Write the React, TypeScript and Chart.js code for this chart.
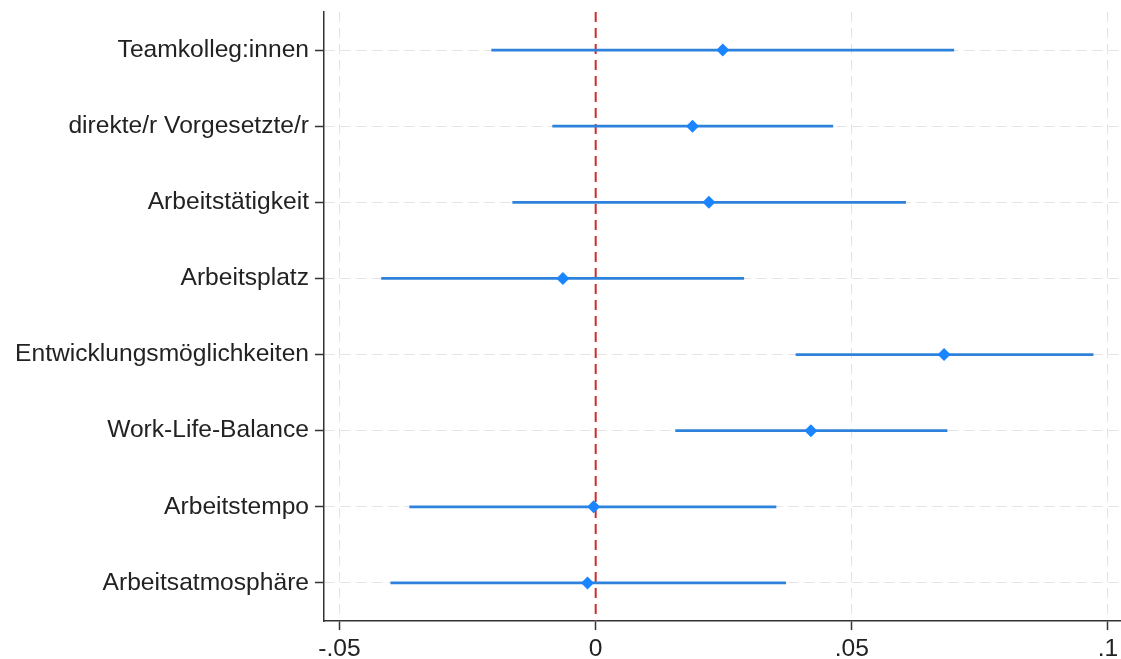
import React, { useEffect, useRef } from "react";
import { Chart, registerables } from "chart.js";

Chart.register(...registerables);

const categories = [
  "Teamkolleg:innen",
  "direkte/r Vorgesetzte/r",
  "Arbeitstätigkeit",
  "Arbeitsplatz",
  "Entwicklungsmöglichkeiten",
  "Work-Life-Balance",
  "Arbeitstempo",
  "Arbeitsatmosphäre",
];
const estimates = [0.0248, 0.0189, 0.0221, -0.0064, 0.068, 0.042, -0.0004, -0.0016];
const ciLower = [-0.0203, -0.0084, -0.0162, -0.0418, 0.0391, 0.0156, -0.0363, -0.04];
const ciUpper = [0.0699, 0.0463, 0.0605, 0.0289, 0.0971, 0.0686, 0.0352, 0.0371];
const xTickValues = [-0.05, 0, 0.05, 0.1];
const xTickLabels = ["-.05", "0", ".05", ".1"];
const referenceLine = 0;

const FONT = { family: "'Liberation Sans', Arial, Helvetica, sans-serif", size: 24.6 };

export default function App() {
  const ref = useRef<HTMLCanvasElement | null>(null);

  useEffect(() => {
    document.body.style.margin = "0";
    const canvas = ref.current;
    if (!canvas) return;

    const refLinePlugin = {
      id: "refLine",
      beforeDatasetsDraw(chart: any) {
        const { ctx, chartArea, scales } = chart;
        const x = scales.x.getPixelForValue(referenceLine);
        ctx.save();
        ctx.strokeStyle = "#cc2b2b";
        ctx.lineWidth = 2;
        ctx.setLineDash([10, 6]);
        ctx.beginPath();
        ctx.moveTo(x, chartArea.top);
        ctx.lineTo(x, chartArea.bottom);
        ctx.stroke();
        ctx.restore();
      },
    };

    const chart = new Chart(canvas, {
      type: "bar",
      data: {
        labels: categories,
        datasets: [
          {
            type: "line",
            data: estimates,
            showLine: false,
            pointStyle: "rectRot",
            pointRadius: 6.5,
            pointBackgroundColor: "#1a85ff",
            pointBorderColor: "#1a85ff",
            pointBorderWidth: 0,
            order: 0,
          } as any,
          {
            type: "bar",
            data: categories.map((_, i) => [ciLower[i], ciUpper[i]]),
            backgroundColor: "#2f82dc",
            borderWidth: 0,
            barThickness: 2,
            order: 1,
          } as any,
        ],
      },
      options: {
        indexAxis: "y",
        animation: false,
        responsive: true,
        maintainAspectRatio: false,
        layout: { autoPadding: false, padding: { top: 12, right: 0, left: 0, bottom: 0 } },
        plugins: {
          legend: { display: false },
          tooltip: { enabled: false },
        },
        scales: {
          x: {
            type: "linear",
            min: -0.05303,
            max: 0.10254,
            afterBuildTicks: (scale: any) => {
              scale.ticks = xTickValues.map((v) => ({ value: v }));
            },
            afterFit: (scale: any) => {
              scale.height = 38;
              scale.paddingLeft = 0;
              scale.paddingRight = 0;
            },
            ticks: {
              font: FONT,
              color: "#222",
              padding: 4,
              maxRotation: 0,
              callback: (v: any) => {
                const i = xTickValues.findIndex((t) => Math.abs(t - Number(v)) < 1e-9);
                return i >= 0 ? xTickLabels[i] : "";
              },
            },
            grid: {
              color: (c: any) =>
                c.tick && Math.abs(c.tick.value - referenceLine) < 1e-9 ? "rgba(0,0,0,0)" : "#e3e3e3",
              lineWidth: 1,
              tickLength: 9,
              tickColor: "#333",
              tickWidth: 1.5,
              tickBorderDash: [],
            },
            border: { display: true, color: "#333", width: 1.5, dash: [10, 6] },
          },
          y: {
            type: "category",
            offset: true,
            afterFit: (scale: any) => {
              scale.width = 324;
              scale.paddingTop = 0;
              scale.paddingBottom = 0;
            },
            ticks: {
              font: FONT,
              color: "#222",
              padding: 6,
            },
            grid: {
              offset: false,
              color: "#e3e3e3",
              lineWidth: 1,
              tickLength: 9,
              tickColor: "#333",
              tickWidth: 1.5,
              tickBorderDash: [],
            },
            border: { display: true, color: "#333", width: 1.5, dash: [10, 6] },
          },
        },
      } as any,
      plugins: [refLinePlugin],
    });

    return () => chart.destroy();
  }, []);

  return (
    <div style={{ width: "1121px", height: "659px", position: "relative", background: "#fff" }}>
      <canvas ref={ref} />
    </div>
  );
}
